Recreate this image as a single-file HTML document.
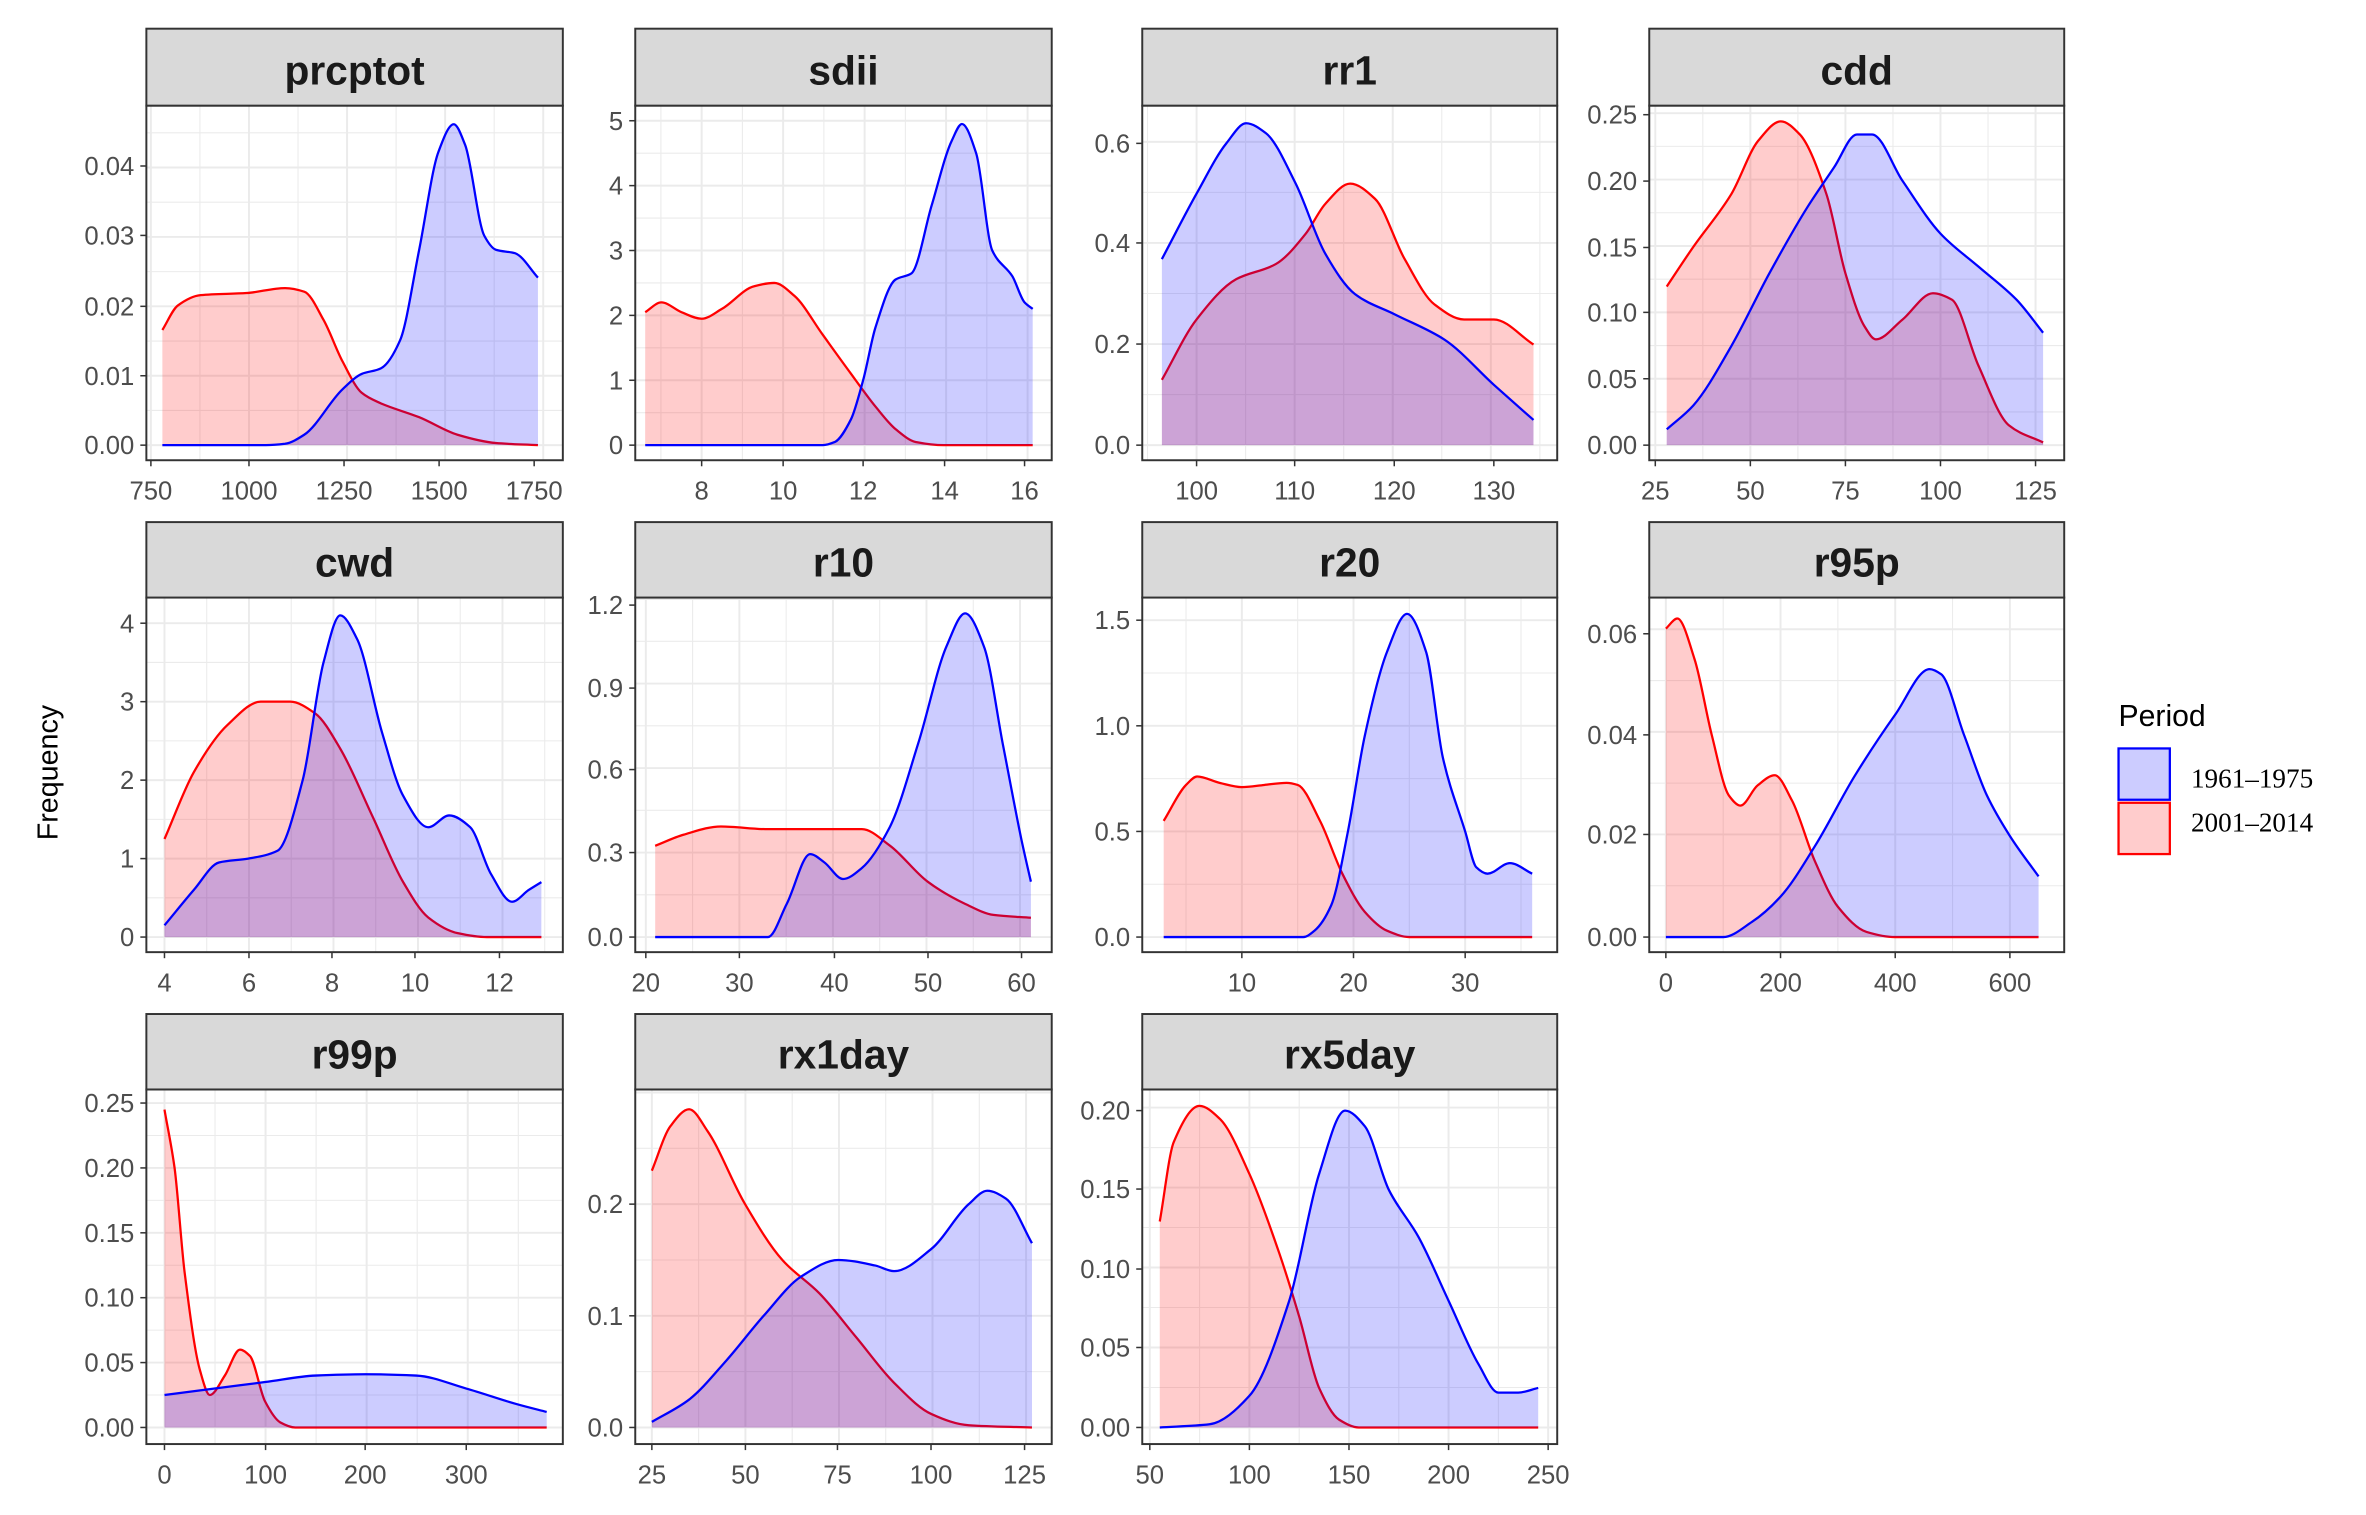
<!DOCTYPE html>
<html><head><meta charset="utf-8"><style>
html,body{margin:0;padding:0;background:#fff}
svg{display:block}
text{font-family:"Liberation Sans",sans-serif}
</style></head><body>
<svg id="s" width="2366" height="1515" viewBox="0 0 1568 1004" xmlns="http://www.w3.org/2000/svg">
<rect width="1568" height="1004" fill="#fff"/>
<text x="38" y="512" font-size="19" fill="#000" text-anchor="middle" transform="rotate(-90 38 512)">Frequency</text>
<text x="1404" y="481" font-size="20" fill="#000">Period</text>
<rect x="1404" y="496" width="34" height="34" fill="rgba(0,0,255,0.2)" stroke="#00f" stroke-width="1.5"/>
<rect x="1404" y="532" width="34" height="34" fill="rgba(255,0,0,0.2)" stroke="#f00" stroke-width="1.5"/>
<text x="1452" y="522" font-size="18" style="font-family:'Liberation Serif',serif">1961–1975</text>
<text x="1452" y="551" font-size="18" style="font-family:'Liberation Serif',serif">2001–2014</text>
</svg>
<script>
const NS="http://www.w3.org/2000/svg",S=document.getElementById('s');
function el(t,a,txt){const e=document.createElementNS(NS,t);for(const k in a)e.setAttribute(k,a[k]);if(txt!==undefined)e.textContent=txt;S.appendChild(e);return e;}
const cols=[[97,373],[421,697],[757,1032],[1093,1368]];
const rows=[[19,70,305],[346,396,631],[672,722,957]];
function lin(a,b){return v=>a[1]+(v-a[0])*(b[1]-a[1])/(b[0]-a[0]);}
function mono(p){const n=p.length,d=[],m=[];
 for(let i=0;i<n-1;i++)d.push((p[i+1][1]-p[i][1])/(p[i+1][0]-p[i][0]));
 m[0]=d[0];m[n-1]=d[n-2];
 for(let i=1;i<n-1;i++){if(d[i-1]*d[i]<=0)m[i]=0;else{const h0=p[i][0]-p[i-1][0],h1=p[i+1][0]-p[i][0];const w1=2*h1+h0,w2=h1+2*h0;m[i]=(w1+w2)/(w1/d[i-1]+w2/d[i]);}}
 let s="M"+p[0][0].toFixed(1)+","+p[0][1].toFixed(1);
 for(let i=0;i<n-1;i++){const h=(p[i+1][0]-p[i][0])/3;
 s+=` C${(p[i][0]+h).toFixed(1)},${(p[i][1]+m[i]*h).toFixed(1)} ${(p[i+1][0]-h).toFixed(1)},${(p[i+1][1]-m[i+1]*h).toFixed(1)} ${p[i+1][0].toFixed(1)},${p[i+1][1].toFixed(1)}`;}
 return s;}
function panel(c,r,title,xt,yt,xl,yl,red,blue){
 const [x0,x1]=cols[c],[st,sb,pb]=rows[r];
 const X=lin(xt[0],xt[xt.length-1]),Y=lin(yt[0],yt[yt.length-1]);
 el('rect',{x:x0,y:sb,width:x1-x0,height:pb-sb,fill:'#fff'});
 const xs=xt.map(t=>t[1]),ys=yt.map(t=>t[1]);
 const dx=xs[1]-xs[0],dy=ys[1]-ys[0];
 for(let k=-4;k<40;k++){const v=xs[0]+k*dx/2;if(v>x0&&v<x1)el('line',{x1:v,x2:v,y1:sb,y2:pb,stroke:'#ebebeb','stroke-width':(k%2==0?1.3:0.7)});}
 for(let k=-4;k<40;k++){const v=ys[0]+k*dy/2;if(v>sb&&v<pb)el('line',{x1:x0,x2:x1,y1:v,y2:v,stroke:'#ebebeb','stroke-width':(k%2==0?1.3:0.7)});}
 const base=Y(0);
 for(const [pts,col,fill] of [[red,'#f00','rgba(255,0,0,0.2)'],[blue,'#00f','rgba(0,0,255,0.2)']]){
  const p=pts.map(q=>[X(q[0]),Y(q[1])]);
  const d=mono(p);
  el('path',{d:d+` L${p[p.length-1][0]},${base} L${p[0][0]},${base} Z`,fill:fill,stroke:'none'});
  el('path',{d:d,fill:'none',stroke:col,'stroke-width':1.5});
 }
 el('rect',{x:x0,y:sb,width:x1-x0,height:pb-sb,fill:'none',stroke:'#333','stroke-width':1.3});
 el('rect',{x:x0,y:st,width:x1-x0,height:sb-st,fill:'#d9d9d9',stroke:'#333','stroke-width':1.3});
 el('text',{x:(x0+x1)/2,y:sb-14,'font-size':27,'font-weight':'bold','text-anchor':'middle',fill:'#1a1a1a'},title);
 xt.forEach((t,i)=>{el('line',{x1:t[1],x2:t[1],y1:pb,y2:pb+4,stroke:'#333','stroke-width':1});el('text',{x:t[1],y:pb+26,'font-size':17,'text-anchor':'middle',fill:'#4d4d4d'},xl[i]);});
 yt.forEach((t,i)=>{el('line',{x1:x0-4,x2:x0,y1:t[1],y2:t[1],stroke:'#333','stroke-width':1});el('text',{x:x0-8,y:t[1]+6,'font-size':17,'text-anchor':'end',fill:'#4d4d4d'},yl[i]);});
}
panel(0,0,'prcptot',[[750,100],[1000,165],[1250,228],[1500,291],[1750,354]],[[0,295],[0.01,249],[0.02,203],[0.03,156],[0.04,110]],
['750','1000','1250','1500','1750'],['0.00','0.01','0.02','0.03','0.04'],
[[780,0.0165],[820,0.02],[880,0.0215],[1000,0.0218],[1100,0.0225],[1150,0.022],[1200,0.018],[1250,0.012],[1300,0.0075],[1350,0.006],[1450,0.004],[1550,0.0015],[1650,0.0003],[1760,0]],
[[780,0],[1050,0],[1100,0.0002],[1150,0.0015],[1250,0.008],[1300,0.0102],[1350,0.011],[1400,0.015],[1450,0.028],[1500,0.042],[1540,0.046],[1570,0.043],[1620,0.03],[1650,0.028],[1700,0.0275],[1760,0.024]]);
panel(1,0,'sdii',[[8,465],[10,519],[12,572],[14,626],[16,679]],[[0,295],[1,252],[2,209],[3,166],[4,123],[5,80]],
['8','10','12','14','16'],['0','1','2','3','4','5'],
[[6.6,2.05],[7.0,2.2],[7.5,2.05],[8,1.95],[8.5,2.1],[9.3,2.45],[9.8,2.5],[10.3,2.3],[11,1.7],[11.7,1.1],[12.3,0.6],[12.8,0.25],[13.3,0.05],[14,0],[16.2,0]],
[[6.6,0],[11,0],[11.3,0.05],[11.7,0.4],[12,1.0],[12.3,1.8],[12.8,2.55],[13.2,2.65],[13.7,3.7],[14.2,4.7],[14.45,4.95],[14.8,4.5],[15.2,3.0],[15.7,2.6],[16,2.2],[16.2,2.1]]);
panel(2,0,'rr1',[[100,793],[110,858],[120,924],[130,990]],[[0,295],[0.2,228],[0.4,161],[0.6,95]],
['100','110','120','130'],['0.0','0.2','0.4','0.6'],
[[96.5,0.13],[100,0.25],[104,0.33],[108,0.36],[111,0.42],[113,0.48],[115.5,0.52],[118,0.49],[121,0.37],[124,0.28],[127,0.25],[130,0.25],[134,0.2]],
[[96.5,0.37],[100,0.5],[103,0.6],[105,0.64],[107,0.62],[110,0.52],[113,0.38],[116,0.3],[120,0.26],[125,0.21],[130,0.12],[134,0.05]]);
panel(3,0,'cdd',[[25,1097],[50,1160],[75,1223],[100,1286],[125,1349]],[[0,295],[0.05,251],[0.10,207],[0.15,164],[0.20,120],[0.25,76]],
['25','50','75','100','125'],['0.00','0.05','0.10','0.15','0.20','0.25'],
[[28,0.12],[35,0.15],[45,0.19],[52,0.23],[58,0.245],[63,0.235],[70,0.19],[75,0.13],[80,0.09],[83,0.08],[90,0.095],[98,0.115],[103,0.11],[110,0.06],[118,0.015],[127,0.002]],
[[28,0.012],[35,0.03],[45,0.075],[55,0.13],[65,0.18],[72,0.21],[78,0.235],[82,0.235],[90,0.2],[100,0.16],[110,0.135],[120,0.11],[127,0.085]]);
panel(0,1,'cwd',[[4,109],[6,165],[8,220],[10,275],[12,331]],[[0,621],[1,569],[2,517],[3,465],[4,413]],
['4','6','8','10','12'],['0','1','2','3','4'],
[[4,1.25],[4.7,2.1],[5.5,2.7],[6.3,3.0],[7,3.0],[7.6,2.85],[8.2,2.4],[9,1.5],[9.7,0.7],[10.3,0.25],[11,0.05],[11.7,0],[13,0]],
[[4,0.15],[4.7,0.6],[5.3,0.95],[6,1.0],[6.7,1.1],[7.3,2.0],[7.8,3.5],[8.2,4.1],[8.6,3.8],[9.2,2.6],[9.7,1.8],[10.3,1.4],[10.8,1.55],[11.3,1.4],[11.8,0.8],[12.3,0.45],[12.7,0.6],[13,0.7]]);
panel(1,1,'r10',[[20,428],[30,490],[40,553],[50,615],[60,677]],[[0,621],[0.3,565],[0.6,510],[0.9,456],[1.2,401]],
['20','30','40','50','60'],['0.0','0.3','0.6','0.9','1.2'],
[[21,0.33],[24,0.37],[28,0.4],[33,0.39],[40,0.39],[43,0.39],[46,0.33],[50,0.2],[54,0.12],[57,0.08],[61,0.07]],
[[21,0],[33,0],[35,0.12],[37.5,0.3],[39,0.27],[41,0.21],[43,0.25],[46,0.4],[49,0.7],[52,1.05],[54,1.17],[56,1.05],[58,0.7],[60,0.35],[61,0.2]]);
panel(2,1,'r20',[[10,823],[20,897],[30,971]],[[0,621],[0.5,551],[1.0,481],[1.5,411]],
['10','20','30'],['0.0','0.5','1.0','1.5'],
[[3,0.55],[5,0.72],[6,0.76],[8,0.73],[10,0.71],[12,0.72],[14,0.73],[15,0.72],[17,0.55],[19,0.3],[21,0.12],[23,0.03],[25,0],[36,0]],
[[3,0],[15.5,0],[16.5,0.03],[18,0.15],[19.5,0.5],[21,0.95],[23,1.35],[24.8,1.53],[26.5,1.35],[28,0.85],[30,0.5],[31,0.33],[32,0.3],[34,0.35],[36,0.3]]);
panel(3,1,'r95p',[[0,1104],[200,1180],[400,1256],[600,1332]],[[0,621],[0.02,553],[0.04,487],[0.06,420]],
['0','200','400','600'],['0.00','0.02','0.04','0.06'],
[[0,0.061],[20,0.063],[50,0.055],[80,0.04],[110,0.028],[130,0.026],[160,0.03],[190,0.032],[220,0.027],[260,0.015],[300,0.006],[350,0.001],[400,0],[650,0]],
[[0,0],[100,0],[150,0.003],[200,0.008],[260,0.018],[330,0.032],[400,0.044],[460,0.053],[480,0.052],[520,0.04],[560,0.028],[600,0.02],[650,0.012]]);
panel(0,2,'r99p',[[0,109],[100,176],[200,242],[300,309]],[[0,946],[0.05,903],[0.10,860],[0.15,817],[0.20,774],[0.25,731]],
['0','100','200','300'],['0.00','0.05','0.10','0.15','0.20','0.25'],
[[0,0.245],[10,0.2],[20,0.12],[35,0.045],[45,0.025],[60,0.04],[75,0.06],[85,0.055],[100,0.02],[115,0.004],[130,0],[380,0]],
[[0,0.025],[50,0.03],[100,0.035],[150,0.04],[200,0.041],[250,0.04],[300,0.03],[350,0.018],[380,0.012]]);
panel(1,2,'rx1day',[[25,432],[50,494],[75,555],[100,617],[125,679]],[[0,946],[0.1,872],[0.2,798]],
['25','50','75','100','125'],['0.0','0.1','0.2'],
[[25,0.23],[30,0.27],[35,0.285],[40,0.265],[50,0.2],[60,0.15],[70,0.12],[80,0.08],[90,0.04],[100,0.012],[110,0.002],[127,0]],
[[25,0.005],[35,0.025],[45,0.06],[55,0.1],[65,0.135],[75,0.15],[85,0.145],[90,0.14],[100,0.16],[110,0.2],[115,0.212],[120,0.205],[127,0.165]]);
panel(2,2,'rx5day',[[50,762],[100,828],[150,894],[200,960],[250,1026]],[[0,946],[0.05,893],[0.10,841],[0.15,788],[0.20,736]],
['50','100','150','200','250'],['0.00','0.05','0.10','0.15','0.20'],
[[55,0.13],[62,0.18],[75,0.203],[85,0.195],[100,0.16],[115,0.11],[125,0.07],[135,0.025],[145,0.005],[155,0],[245,0]],
[[55,0],[80,0.002],[100,0.02],[120,0.08],[135,0.16],[148,0.2],[158,0.19],[170,0.15],[185,0.12],[200,0.08],[215,0.04],[225,0.022],[235,0.022],[245,0.025]]);
</script>
</body></html>
